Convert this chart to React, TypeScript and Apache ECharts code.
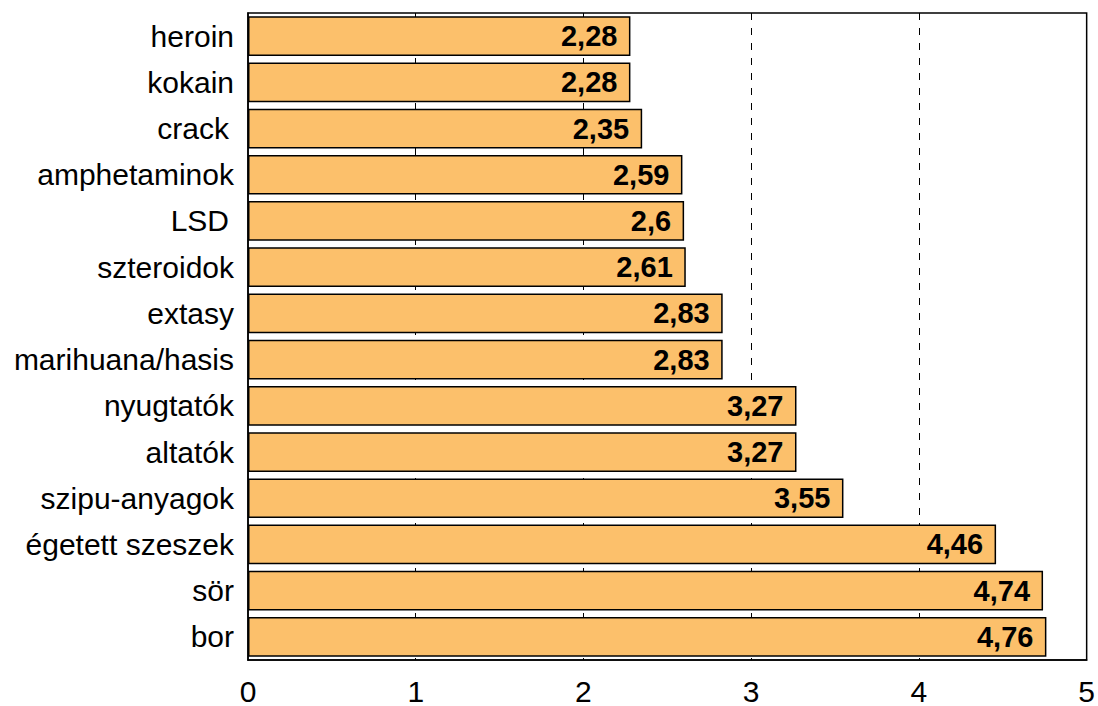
import React, { useEffect, useRef } from "react";
import * as echarts from "echarts";

// Categories top-to-bottom; a trailing space marks labels set slightly apart from the axis
const categories = [
  "heroin",
  "kokain",
  "crack ",
  "amphetaminok",
  "LSD ",
  "szteroidok",
  "extasy",
  "marihuana/hasis",
  "nyugtatók",
  "altatók",
  "szipu-anyagok",
  "égetett szeszek",
  "sör",
  "bor",
];

const values = [2.28, 2.28, 2.35, 2.59, 2.6, 2.61, 2.83, 2.83, 3.27, 3.27, 3.55, 4.46, 4.74, 4.76];

const xTicks = [0, 1, 2, 3, 4, 5];

const FONT = "'Liberation Sans', Arial, sans-serif";

export default function App() {
  const ref = useRef<HTMLDivElement>(null);

  useEffect(() => {
    if (!ref.current) return;
    // full-bleed chart: drop the default page margin
    document.body.style.margin = "0";
    const chart = echarts.init(ref.current, undefined, { renderer: "svg" });

    chart.setOption({
      animation: false,
      backgroundColor: "#ffffff",
      grid: {
        left: 248,
        right: 10,
        top: 13,
        bottom: 43,
        show: true,
        borderColor: "#000000",
        borderWidth: 1.5,
        backgroundColor: "transparent",
      },
      xAxis: {
        type: "value",
        min: xTicks[0],
        max: xTicks[xTicks.length - 1],
        interval: 1,
        axisLine: { show: true, lineStyle: { color: "#000000", width: 1.5 } },
        axisTick: { show: false },
        axisLabel: {
          color: "#000000",
          fontFamily: FONT,
          fontSize: 30,
          margin: 16,
          formatter: (v: number) => String(v),
        },
        splitLine: {
          show: true,
          showMinLine: false,
          showMaxLine: false,
          lineStyle: { color: "#000000", width: 1, type: [7, 8] },
        },
      },
      yAxis: {
        type: "category",
        data: categories,
        inverse: true,
        axisLine: { show: true, lineStyle: { color: "#000000", width: 1.5 } },
        axisTick: { show: false },
        axisLabel: {
          color: "#000000",
          fontFamily: FONT,
          fontSize: 30,
          margin: 14,
          formatter: (v: string) => (v.endsWith(" ") ? `{gap|${v.trim()}}` : v),
          rich: {
            gap: {
              color: "#000000",
              fontFamily: FONT,
              fontSize: 30,
              padding: [0, 5, 0, 0],
            },
          },
        },
        splitLine: { show: false },
      },
      series: [
        {
          type: "bar",
          data: values,
          barCategoryGap: "14%",
          itemStyle: {
            color: "#FCC06B",
            borderColor: "#000000",
            borderWidth: 1.5,
          },
          label: {
            show: true,
            position: "insideRight",
            distance: 13,
            color: "#000000",
            fontFamily: FONT,
            fontSize: 29,
            fontWeight: "bold",
            formatter: (p: any) => String(p.value).replace(".", ","),
          },
        },
      ],
    });

    return () => chart.dispose();
  }, []);

  return <div ref={ref} style={{ width: 1098, height: 706 }} />;
}
